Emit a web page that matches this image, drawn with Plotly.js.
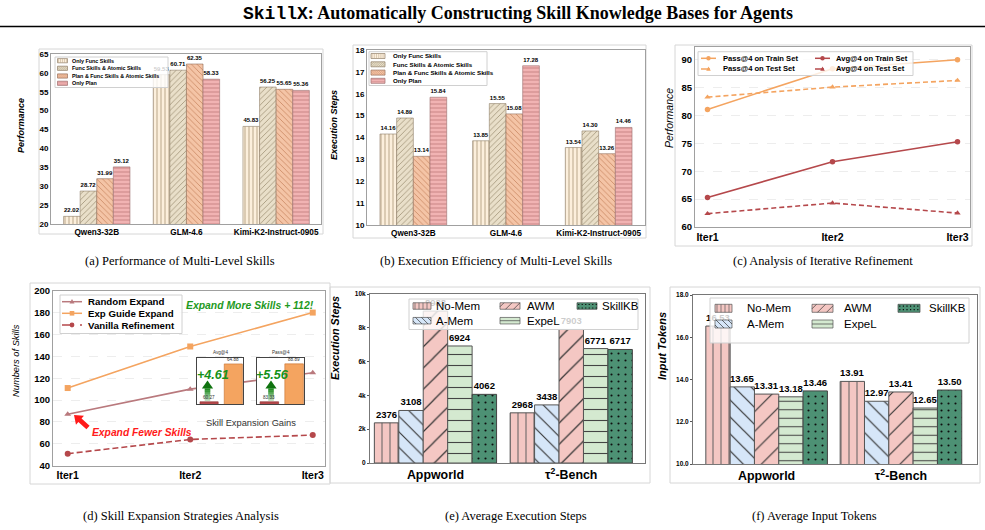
<!DOCTYPE html>
<html>
<head>
<meta charset="utf-8">
<script src="https://cdn.plot.ly/plotly-3.0.1.min.js"></script>
<style>
  html, body { margin: 0; padding: 0; background: #ffffff; }
  #fig { width: 985px; height: 530px; }
</style>
</head>
<body>
<div id="fig"></div>
<script>
// ---------------- data ----------------
// (a)/(b) multi-level skills
const modelNames = ['Qwen3-32B', 'GLM-4.6', 'Kimi-K2-Instruct-0905'];
const skillLevelNames = ['Only Func Skills', 'Func Skills & Atomic Skills', 'Plan & Func Skills & Atomic Skills', 'Only Plan'];
const perfOnlyFunc       = [22.02, 59.53, 45.83];
const perfFuncAtomic     = [28.72, 60.71, 56.25];
const perfPlanFuncAtomic = [31.99, 62.35, 55.65];
const perfOnlyPlan       = [35.12, 58.33, 55.36];
const stepsOnlyFunc       = [14.16, 13.85, 13.54];
const stepsFuncAtomic     = [14.89, 15.55, 14.30];
const stepsPlanFuncAtomic = [13.14, 15.08, 13.26];
const stepsOnlyPlan       = [15.84, 17.28, 14.46];

// (c) iterative refinement
const iterLabels = ['Iter1', 'Iter2', 'Iter3'];
const refineNames = ['Pass@4 on Train Set', 'Pass@4 on Test Set', 'Avg@4 on Train Set', 'Avg@4 on Test Set'];
const passTrain = [81.1, 88.4, 90.0];
const passTest  = [83.3, 85.1, 86.3];
const avgTrain  = [65.3, 71.7, 75.3];
const avgTest   = [62.4, 64.3, 62.5];

// (d) skill expansion strategies
const expandNames = ['Random Expand', 'Exp Guide Expand', 'Vanilla Refinement'];
const randomExpand      = [87, 110, 125];
const expGuideExpand    = [111, 149, 180];
const vanillaRefinement = [51, 64, 68];
// (d) inset: vanilla refinement vs. guided expansion
const gainMetrics = ['Avg@4', 'Pass@4'];
const gainPair  = ['Vanilla Refinement', 'Exp Guide Expand'];
const gainAvg4  = [60.27, 64.88];
const gainPass4 = [83.33, 88.89];

// (e)/(f) memory baselines
const benchNames  = ['Appworld', 'τ<sup>2</sup>-Bench'];
const memoryNames = ['No-Mem', 'A-Mem', 'AWM', 'ExpeL', 'SkillKB'];
const execNoMem   = [2376, 2968];
const execAMem    = [3108, 3438];
const execAWM     = [8988, 7903];
const execExpeL   = [6924, 6771];
const execSkillKB = [4062, 6717];
const tokNoMem   = [16.53, 13.91];
const tokAMem    = [13.65, 12.97];
const tokAWM     = [13.31, 13.41];
const tokExpeL   = [13.18, 12.65];
const tokSkillKB = [13.46, 13.50];

// ---------------- styles ----------------
const SANS = 'Liberation Sans, Arial, sans-serif';
const SERIF = 'Liberation Serif, Times New Roman, serif';
const C_PASS = '#f4a460', C_AVG = '#b5484b', C_RAND = '#b9797d';

const skillStyles = [
  { bg: '#fcefdc', fg: '#bba78a', edge: '#8f7e68', shape: '|' },
  { bg: '#e9dfc9', fg: '#9f9276', edge: '#8f7e68', shape: '/' },
  { bg: '#f4c4a6', fg: '#c98762', edge: '#93705c', shape: '\\' },
  { bg: '#f1b3b3', fg: '#c98585', edge: '#9b6d6d', shape: '-' }
];
const memStyles = [
  { bg: '#f4c7c3', fg: '#5a5a5a', edge: '#555555', shape: '|' },
  { bg: '#d6e6f8', fg: '#333333', edge: '#555555', shape: '\\' },
  { bg: '#f4c7c3', fg: '#333333', edge: '#555555', shape: '/' },
  { bg: '#d4e9d0', fg: '#444444', edge: '#555555', shape: '-' },
  { bg: '#4d9174', fg: '#0d0d0d', edge: '#444444', shape: '.' }
];

// ---------------- helpers (pixel -> paper) ----------------
const W = 985, H = 530;
const X = p => p / W;
const Y = p => 1 - p / H;
const shapes = [], annotations = [], traces = [];

const rectPx = (x0, y0, x1, y1, o) => Object.assign(
  { type: 'rect', xref: 'paper', yref: 'paper', x0: X(x0), x1: X(x1), y0: Y(y1), y1: Y(y0) }, o);

function text(x, y, str, font, o) {
  annotations.push(Object.assign({
    xref: 'paper', yref: 'paper', x: X(x), y: Y(y), text: str, showarrow: false,
    xanchor: 'center', yanchor: 'middle', borderpad: 0,
    font: Object.assign({ family: SANS, size: 10, color: '#000' }, font)
  }, o));
}

function polyPath(pts) {
  return 'M' + pts.map(p => X(p[0]) + ',' + Y(p[1])).join('L') + 'Z';
}

function hatchPath(x0, y0, w, h, shape, sp) {
  let d = '';
  const seg = (ax, ay, bx, by) => { d += `M${X(ax)},${Y(ay)}L${X(bx)},${Y(by)}`; };
  if (shape === '|') {
    for (let x = x0 + sp / 2; x < x0 + w; x += sp) seg(x, y0, x, y0 + h);
  } else if (shape === '-') {
    for (let y = y0 + sp / 2; y < y0 + h; y += sp) seg(x0, y, x0 + w, y);
  } else {
    for (let t = -h + sp / 2; t < w; t += sp) {
      const s0 = Math.max(0, -t), s1 = Math.min(h, w - t);
      if (s1 <= s0) continue;
      if (shape === '/') seg(x0 + t + s0, y0 + h - s0, x0 + t + s1, y0 + h - s1);
      else seg(x0 + t + s0, y0 + s0, x0 + t + s1, y0 + s1);
    }
  }
  return d;
}

function dotsPath(x0, y0, w, h, sp, r) {
  let d = '';
  for (let y = y0 + sp / 2; y < y0 + h; y += sp)
    for (let x = x0 + sp / 2; x < x0 + w; x += sp)
      d += polyPath([[x - r, y - r], [x + r, y - r], [x + r, y + r], [x - r, y + r]]);
  return d;
}

// patterned legend key
function patchKey(x0, yc, w, h, st, sp, lw) {
  const y0 = yc - h / 2;
  shapes.push(rectPx(x0, y0, x0 + w, y0 + h, { fillcolor: st.bg, line: { color: st.edge, width: 0.7 }, layer: 'above' }));
  if (st.shape === '.') {
    shapes.push({ type: 'path', xref: 'paper', yref: 'paper', path: dotsPath(x0, y0, w, h, sp, 0.6),
      fillcolor: st.fg, line: { width: 0 }, layer: 'above' });
  } else {
    shapes.push({ type: 'path', xref: 'paper', yref: 'paper', path: hatchPath(x0, y0, w, h, st.shape, sp),
      fillcolor: 'rgba(0,0,0,0)', line: { color: st.fg, width: lw }, layer: 'above' });
  }
}

function markerKey(cx, cy, symbol, r, color) {
  let path;
  if (symbol === 'circle') {
    shapes.push({ type: 'circle', xref: 'paper', yref: 'paper', x0: X(cx - r), x1: X(cx + r), y0: Y(cy + r), y1: Y(cy - r),
      fillcolor: color, line: { width: 0 }, layer: 'above' });
    return;
  }
  if (symbol === 'square') path = polyPath([[cx - r, cy - r], [cx + r, cy - r], [cx + r, cy + r], [cx - r, cy + r]]);
  else path = polyPath([[cx, cy - r * 1.1], [cx + r, cy + r * 0.75], [cx - r, cy + r * 0.75]]);
  shapes.push({ type: 'path', xref: 'paper', yref: 'paper', path, fillcolor: color, line: { width: 0 }, layer: 'above' });
}

function lineKey(x0, x1, yc, color, dash, symbol, r) {
  shapes.push({ type: 'line', xref: 'paper', yref: 'paper', x0: X(x0), x1: X(x1), y0: Y(yc), y1: Y(yc),
    line: { color, width: 1.5, dash }, layer: 'above' });
  markerKey((x0 + x1) / 2, yc, symbol, r, color);
}

function legendBox(x0, y0, x1, y1) {
  shapes.push(rectPx(x0, y0, x1, y1, { fillcolor: 'rgba(255,255,255,0.8)', line: { color: '#d0d0d0', width: 1 }, layer: 'above' }));
}

// grouped bars with explicit offsets so every panel keeps its own spacing
function groupedBars(cats, seriesList, names, styles, ax, opt) {
  const n = seriesList.length;
  seriesList.forEach((vals, i) => {
    const st = styles[i];
    traces.push({
      type: 'bar', name: names[i], x: cats, y: vals,
      xaxis: 'x' + ax, yaxis: 'y' + ax,
      width: opt.w, offset: -n * opt.w / 2 + i * opt.w,
      marker: {
        color: st.bg, line: { color: st.edge, width: opt.lw },
        pattern: { shape: st.shape, fgcolor: st.fg, bgcolor: st.bg, size: opt.psize[i], solidity: opt.sol[i] }
      },
      texttemplate: opt.fmt, textposition: 'outside', constraintext: 'none',
      textfont: { family: SANS, size: opt.fs, color: '#000', weight: 'bold' },
      hoverinfo: 'skip', showlegend: false
    });
  });
}

// ---------------- panel (a) / (b) ----------------
groupedBars(modelNames, [perfOnlyFunc, perfFuncAtomic, perfPlanFuncAtomic, perfOnlyPlan], skillLevelNames, skillStyles, '',
  { w: 0.185, lw: 0.6, fmt: '%{y:.2f}', fs: 6, psize: [4, 4, 4, 4], sol: [0.25, 0.2, 0.2, 0.25] });
groupedBars(modelNames, [stepsOnlyFunc, stepsFuncAtomic, stepsPlanFuncAtomic, stepsOnlyPlan], skillLevelNames, skillStyles, '2',
  { w: 0.18, lw: 0.6, fmt: '%{y:.2f}', fs: 6, psize: [4, 4, 4, 4], sol: [0.25, 0.2, 0.2, 0.25] });

// ---------------- panel (c) ----------------
[[passTrain, C_PASS, 'solid', 'circle'], [passTest, C_PASS, 'dash', 'triangle-up'],
 [avgTrain, C_AVG, 'solid', 'circle'], [avgTest, C_AVG, 'dash', 'triangle-up']].forEach((s, i) => {
  traces.push({ type: 'scatter', mode: 'lines+markers', name: refineNames[i], x: iterLabels, y: s[0],
    xaxis: 'x3', yaxis: 'y3', line: { color: s[1], width: 1.6, dash: s[2] === 'dash' ? '5px,3px' : 'solid' },
    marker: { symbol: s[3], size: 5.5, color: s[1] }, cliponaxis: false, hoverinfo: 'skip', showlegend: false });
});

// ---------------- panel (d) ----------------
[[randomExpand, C_RAND, 'solid', 'triangle-up'], [expGuideExpand, C_PASS, 'solid', 'square'],
 [vanillaRefinement, C_AVG, 'dash', 'circle']].forEach((s, i) => {
  traces.push({ type: 'scatter', mode: 'lines+markers', name: expandNames[i], x: iterLabels, y: s[0],
    xaxis: 'x4', yaxis: 'y4', line: { color: s[1], width: 1.6, dash: s[2] === 'dash' ? '6px,3px' : 'solid' },
    marker: { symbol: s[3], size: 6, color: s[1] }, cliponaxis: false, hoverinfo: 'skip', showlegend: false });
});
// inset bars; their value labels are anchored to the same values on the inset axes
[[gainAvg4, '7'], [gainPass4, '8']].forEach(g => {
  traces.push({ type: 'bar', x: gainPair, y: g[0], xaxis: 'x' + g[1], yaxis: 'y' + g[1], width: 0.75,
    marker: { color: [C_AVG, C_PASS], line: { color: ['#8a2c2c', '#c8702e'], width: 0.6 } },
    hoverinfo: 'skip', showlegend: false });
  g[0].forEach((v, i) => annotations.push({
    xref: 'x' + g[1], yref: 'y' + g[1], x: gainPair[i], y: v, text: v.toFixed(2), showarrow: false,
    xanchor: 'center', yanchor: 'bottom', yshift: 0.5, borderpad: 0,
    font: { family: SANS, size: 4.6, color: '#333' }
  }));
});

// ---------------- panel (e) / (f) ----------------
groupedBars(benchNames, [execNoMem, execAMem, execAWM, execExpeL, execSkillKB], memoryNames, memStyles, '5',
  { w: 0.18, lw: 1, fmt: '%{y:.0f}', fs: 9.5, psize: [8, 11, 15, 11, 7], sol: [0.12, 0.1, 0.08, 0.1, 0.07] });
groupedBars(benchNames, [tokNoMem, tokAMem, tokAWM, tokExpeL, tokSkillKB], memoryNames, memStyles, '6',
  { w: 0.181, lw: 1, fmt: '%{y:.2f}', fs: 9.5, psize: [8, 12, 14, 8.5, 7], sol: [0.12, 0.1, 0.08, 0.12, 0.07] });

// ---------------- axes ----------------
function ax(dom, extra) {
  return Object.assign({ domain: dom, showline: true, mirror: true, linecolor: '#a0a0a0', linewidth: 1,
    zeroline: false, showgrid: false, ticks: '', fixedrange: true }, extra);
}
const tf = (size) => ({ family: SANS, size, color: '#000', weight: 'bold' });
const grid = { showgrid: true, gridcolor: '#e8e8e8', griddash: 'dash', gridwidth: 0.8 };

const layout = {
  width: W, height: H, autosize: false, margin: { l: 0, r: 0, t: 0, b: 0 },
  paper_bgcolor: '#ffffff', plot_bgcolor: '#ffffff', showlegend: false, hovermode: false,
  barmode: 'overlay',
  xaxis:  ax([X(51), X(321)], { anchor: 'y', type: 'category', range: [-0.51, 2.5], tickfont: tf(8.2) }),
  yaxis:  ax([Y(224), Y(54)], { anchor: 'x', range: [20, 65], dtick: 5, tickfont: tf(8) }),
  xaxis2: ax([X(367), X(645)], { anchor: 'y2', type: 'category', range: [-0.5, 2.5], tickfont: tf(8.2) }),
  yaxis2: ax([Y(225), Y(50)], { anchor: 'x2', range: [10, 18], dtick: 1, tickfont: tf(8) }),
  xaxis3: ax([X(695), X(970)], { anchor: 'y3', type: 'category', range: [-0.1, 2.1], tickfont: tf(10.5) }),
  yaxis3: Object.assign(ax([Y(227), Y(47)], { anchor: 'x3', range: [60, 92.3], dtick: 5, tickfont: tf(9.5) }), grid),
  xaxis4: ax([X(53), X(325)], { anchor: 'y4', type: 'category', range: [-0.12, 2.1], tickfont: tf(10.5) }),
  yaxis4: Object.assign(ax([Y(465.7), Y(290.7)], { anchor: 'x4', range: [40, 200], dtick: 20, tickfont: tf(9.5) }), grid),
  xaxis5: ax([X(370), X(645)], { anchor: 'y5', type: 'category', range: [-0.482, 1.543], tickfont: tf(12.4), linecolor: '#777' }),
  yaxis5: ax([Y(463), Y(294)], { anchor: 'x5', range: [0, 10000], dtick: 2000, tickformat: '~s', tickfont: tf(6.5),
    linecolor: '#777', ticks: 'outside', ticklen: 2, tickcolor: '#555' }),
  xaxis6: ax([X(693), X(977)], { anchor: 'y6', type: 'category', range: [-0.548, 1.566], tickfont: tf(12.4), linecolor: '#777' }),
  yaxis6: ax([Y(464), Y(295)], { anchor: 'x6', range: [10, 18], dtick: 2, tickformat: '.1f', tickfont: tf(6.5),
    linecolor: '#777', ticks: 'outside', ticklen: 2, tickcolor: '#555' }),
  xaxis7: ax([X(197), X(243)], { anchor: 'y7', type: 'category', range: [-0.5, 1.4], showticklabels: false, linecolor: '#444' }),
  yaxis7: ax([Y(404), Y(358)], { anchor: 'x7', range: [60, 65.6], showticklabels: false, linecolor: '#444' }),
  xaxis8: ax([X(257), X(304)], { anchor: 'y8', type: 'category', range: [-0.5, 1.4], showticklabels: false, linecolor: '#444' }),
  yaxis8: ax([Y(404), Y(358)], { anchor: 'x8', range: [83, 89.75], showticklabels: false, linecolor: '#444' }),
  shapes, annotations
};

// ---------------- frames around each panel ----------------
[[39, 49, 323, 234], [353, 45, 646, 238], [675, 45, 972, 246],
 [30, 283, 330, 484], [330, 287, 650, 483], [670, 287, 980, 483]].forEach(b => {
  shapes.push(rectPx(b[0], b[1], b[2], b[3], { fillcolor: 'rgba(0,0,0,0)', line: { color: '#d6d6d6', width: 1 }, layer: 'below' }));
});

// ---------------- title, rule and captions ----------------
text(518, 14, '<span style="font-family:Liberation Mono,DejaVu Sans Mono,monospace">SkillX</span>: Automatically Constructing Skill Knowledge Bases for Agents',
  { family: SERIF, size: 18, weight: 'bold' });
shapes.push({ type: 'line', xref: 'paper', yref: 'paper', x0: 0, x1: 1, y0: Y(26.5), y1: Y(26.5), line: { color: '#000', width: 1.6 } });

const cap = { family: SERIF, size: 12.5, color: '#000' };
text(180, 261, '(a) Performance of Multi-Level Skills', cap);
text(496, 261, '(b) Execution Efficiency of Multi-Level Skills', cap);
text(823, 261, '(c) Analysis of Iterative Refinement', cap);
text(181, 516, '(d) Skill Expansion Strategies Analysis', cap);
text(516, 516, '(e) Average Execution Steps', cap);
text(814, 516, '(f) Average Input Tokens', cap);

// ---------------- y-axis titles ----------------
const ylab = (x, y, s, size, weight) => text(x, y, s, { size, weight, style: 'italic' }, { textangle: -90 });
ylab(21, 126, 'Performance', 9, 'bold');
ylab(334, 125, 'Execution Steps', 9, 'bold');
ylab(669, 118, 'Performance', 10.5, 'normal');
ylab(16, 361, 'Numbers of Skills', 9.3, 'normal');
ylab(335, 338, 'Execution Steps', 10.8, 'bold');
ylab(662, 346, 'Input Tokens', 11, 'bold');

// ---------------- legends ----------------
// (a)
legendBox(55, 57, 168, 87.5);
[60.7, 68.3, 76, 83.3].forEach((yc, i) => {
  patchKey(57.5, yc, 10, 4.2, skillStyles[i], 2, 0.5);
  text(71, yc, skillLevelNames[i], { size: 5.4, weight: 'bold' }, { xanchor: 'left' });
});
// (b)
legendBox(369, 51.7, 487, 85.5);
[56, 64.3, 72.6, 80.8].forEach((yc, i) => {
  patchKey(371, yc, 14, 5, skillStyles[i], 2.2, 0.5);
  text(391.5, yc, skillLevelNames[i], { size: 6.2, weight: 'bold' }, { xanchor: 'left' });
});
// (c)
legendBox(698, 51.7, 913, 75.5);
lineKey(701, 716, 58.3, C_PASS, 'solid', 'circle', 2.2);
lineKey(701, 716, 69, C_PASS, 'dash', 'triangle', 2.3);
lineKey(815, 830, 58.3, C_AVG, 'solid', 'circle', 2.2);
lineKey(815, 830, 69, C_AVG, 'dash', 'triangle', 2.3);
text(721.5, 58.3, refineNames[0], { size: 7.6, weight: 'bold' }, { xanchor: 'left' });
text(721.5, 69, refineNames[1], { size: 7.6, weight: 'bold' }, { xanchor: 'left' });
text(835, 58.3, refineNames[2], { size: 7.6, weight: 'bold' }, { xanchor: 'left' });
text(835, 69, refineNames[3], { size: 7.6, weight: 'bold' }, { xanchor: 'left' });
// (d)
legendBox(60, 295, 182, 333.5);
lineKey(62, 82, 301.7, C_RAND, 'solid', 'triangle', 2.5);
lineKey(62, 82, 313.3, C_PASS, 'solid', 'square', 2.3);
lineKey(62, 82, 325, C_AVG, 'dash', 'circle', 2.4);
[301.7, 313.3, 325].forEach((yc, i) => text(87, yc, expandNames[i], { size: 9.7, weight: 'bold' }, { xanchor: 'left' }));
// (e) and (f): three columns, filled column by column
function memLegend(box, cols, rows, keyH, fs, sp) {
  legendBox(box[0], box[1], box[2], box[3]);
  memoryNames.forEach((nm, i) => {
    const c = cols[Math.floor(i / 2)], yc = rows[i % 2];
    patchKey(c[0], yc, c[1] - c[0], keyH, memStyles[i], sp[i], 0.7);
    text(c[2], yc, nm, { size: fs }, { xanchor: 'left' });
  });
}
memLegend([409, 299, 638, 329.5], [[413, 431, 435], [500, 520, 526], [577, 597, 601]], [306, 320.7], 6.5, 11.5, [4, 6, 8, 6.5, 3.5]);
memLegend([710, 298, 969, 343], [[715, 732, 745.7], [812, 833, 842.7], [898, 920, 928.3]], [308.3, 324], 8, 11.5, [4, 6, 9, 8, 3.6]);

// ---------------- (d) annotations ----------------
const green = '#1e9a1e';
text(250, 305, 'Expand More Skills + ' + (expGuideExpand[2] - vanillaRefinement[2]) + '!',
  { size: 10.4, weight: 'bold', style: 'italic', color: green });
text(142, 432, 'Expand Fewer Skills', { size: 10.3, weight: 'bold', style: 'italic', color: '#ff1a1a' });
text(250.5, 423, 'Skill Expansion Gains', { size: 9.3, color: '#333' });
text(220, 352.5, gainMetrics[0], { size: 4.6, color: '#333' });
text(280.5, 352.5, gainMetrics[1], { size: 4.6, color: '#333' });

// red arrow pointing at the first random-expansion point
(function () {
  const tip = [74, 415], tail = [88, 427.5];
  const dx = tail[0] - tip[0], dy = tail[1] - tip[1], L = Math.hypot(dx, dy);
  const u = [dx / L, dy / L], p = [-u[1], u[0]];
  const hb = [tip[0] + 8 * u[0], tip[1] + 8 * u[1]];
  const at = (b, k) => [b[0] + k * p[0], b[1] + k * p[1]];
  shapes.push({ type: 'path', xref: 'paper', yref: 'paper', layer: 'above', fillcolor: '#ff1a1a', line: { width: 0 },
    path: polyPath([tip, at(hb, 6), at(hb, 2.4), at(tail, 2.4), at(tail, -2.4), at(hb, -2.4), at(hb, -6)]) });
})();

// green up-arrows inside the insets (shaft fades downward)
function upArrow(cx, tip, base, bottom) {
  shapes.push({ type: 'path', xref: 'paper', yref: 'paper', layer: 'above', fillcolor: '#0f730f', line: { width: 0 },
    path: polyPath([[cx, tip], [cx + 5.6, base], [cx - 5.6, base]]) });
  const n = 7, hw = 2.8;
  for (let k = 0; k < n; k++) {
    const a = base + (bottom - base) * k / n, b = base + (bottom - base) * (k + 1) / n;
    shapes.push(rectPx(cx - hw, a - 0.2, cx + hw, b, { fillcolor: 'rgba(24,135,24,' + (0.95 - 0.8 * k / n).toFixed(2) + ')',
      line: { width: 0 }, layer: 'above' }));
  }
}
upArrow(207.5, 380.5, 388.5, 401);
upArrow(271, 380.5, 388.5, 401);
text(213, 374.5, '+' + (gainAvg4[1] - gainAvg4[0]).toFixed(2), { size: 12.6, weight: 'bold', style: 'italic', color: '#15921a' });
text(272, 374.5, '+' + (gainPass4[1] - gainPass4[0]).toFixed(2), { size: 12.6, weight: 'bold', style: 'italic', color: '#15921a' });

Plotly.newPlot('fig', traces, layout, { staticPlot: true, displayModeBar: false });
</script>
</body>
</html>
